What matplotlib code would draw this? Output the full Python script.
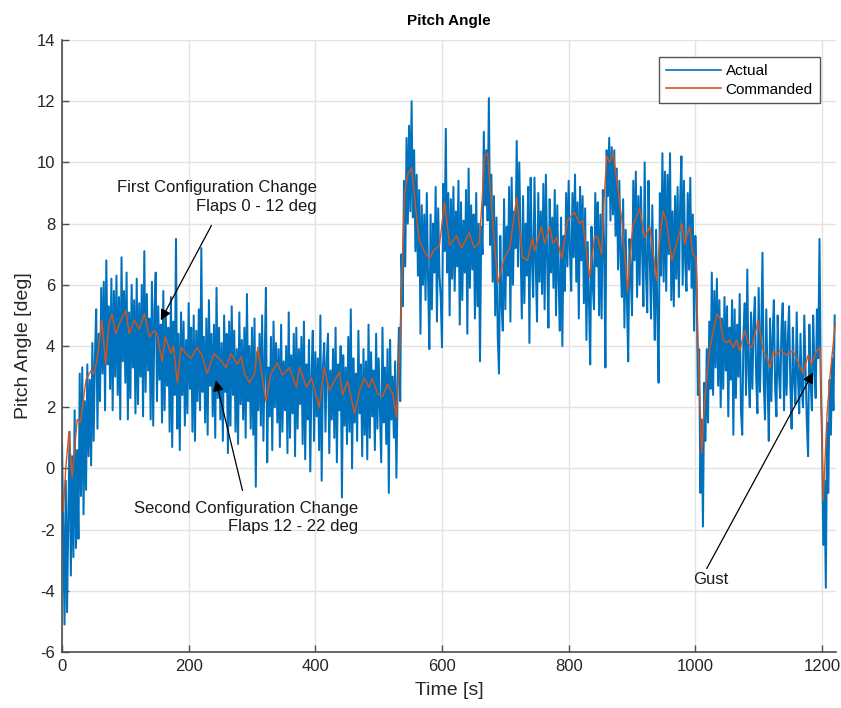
import numpy as np
import matplotlib
matplotlib.use("Agg")
import matplotlib.pyplot as plt

plt.rcParams['font.family'] = ['Liberation Sans', 'DejaVu Sans']
plt.rcParams['axes.unicode_minus'] = False

# Measured pitch angle [deg], one sample every 2 s starting at t = 0 s (30 samples per line)
sample_period = 2.0
actual_deg = [
    0.8, -1.9, -5.1, -0.4, -4.7, -1.6, 1.2, -3.5, 0.4, -2.9, 1.9, -2.6, 0.6, -2.3, 3.1, -0.9, 3.3, -1.5, 2.2, -0.7, 3.4, 0.4, 2.9, 0.1, 4.1, 0.9, 3.6, 5.2, 1.3, 4.4,
    2.2, 5.9, 3.1, 6.1, 1.9, 6.8, 3.4, 5.3, 2.6, 6.2, 1.9, 5.8, 3.0, 6.3, 2.4, 5.6, 1.6, 6.9, 3.5, 5.8, 2.8, 6.4, 1.6, 5.1, 2.3, 6.0, 3.3, 5.5, 1.8, 6.2,
    2.1, 5.4, 3.0, 6.0, 1.7, 7.1, 2.5, 5.7, 3.2, 4.9, 1.6, 6.1, 1.4, 5.2, 6.4, 2.2, 5.3, 2.9, 4.7, 1.5, 5.8, 1.9, 5.0, 2.7, 4.6, 1.2, 5.6, 0.7, 4.8, 2.4,
    7.5, 1.3, 4.4, 0.6, 5.1, 2.4, 4.8, 1.4, 4.2, 1.8, 5.4, 2.6, 4.6, 1.2, 5.0, 0.9, 4.5, 2.2, 5.2, 1.9, 7.2, 2.5, 4.3, 1.5, 4.9, 1.1, 5.5, 2.7, 4.4, 1.7,
    4.7, 1.0, 5.9, 2.3, 4.6, 1.6, 4.1, 0.9, 5.0, 2.5, 4.4, 0.5, 4.8, 1.4, 5.3, 2.4, 4.5, 1.2, 3.9, 0.8, 5.1, 2.1, 4.2, 1.6, 4.6, 1.0, 5.7, 2.2, 4.0, 1.3,
    4.6, 1.1, 4.9, -0.6, 3.8, 1.9, 4.4, 1.4, 5.0, 0.9, 3.6, 5.9, 0.2, 3.3, 1.7, 4.3, 0.6, 4.8, 2.0, 4.1, 1.5, 3.9, 0.7, 4.7, 1.2, 3.5, 1.9, 4.0, 0.5, 5.1,
    1.0, 3.7, 1.8, 4.4, 0.4, 4.6, 1.3, 3.9, 2.1, 4.3, 0.8, 4.8, 0.3, 3.4, 1.6, 4.2, -0.1, 3.1, 4.5, 0.9, 3.8, 1.7, 3.6, 0.6, 5.0, -0.4, 3.3, 4.1, 1.2, 3.5,
    4.4, 0.5, 3.2, 1.6, 3.9, 1.0, 4.6, 0.2, 3.4, 1.9, 4.0, -0.95, 3.7, 1.4, 3.3, 0.8, 4.3, 1.2, 5.2, 0.0, 3.6, 1.5, 3.1, 0.9, 4.5, 1.8, 3.4, 0.4, 3.9, 1.1,
    3.5, 0.3, 4.7, 1.0, 3.8, 1.7, 3.2, 0.6, 4.4, 1.3, 3.6, 1.9, 0.2, 4.6, 1.5, 3.3, 0.8, 3.9, -0.8, 4.2, 1.6, 3.0, 1.0, 3.5, -0.3, 2.8, 4.6, 2.2, 7.0, 5.3,
    9.4, 6.6, 10.8, 8.0, 11.2, 8.4, 12.0, 8.2, 10.4, 7.1, 9.6, 6.3, 9.1, 4.4, 8.6, 6.0, 8.3, 5.5, 9.0, 6.2, 3.9, 8.3, 5.2, 8.0, 6.4, 9.2, 4.8, 8.5, 6.3, 5.6,
    3.96, 9.3, 7.1, 11.1, 6.4, 9.0, 5.0, 8.8, 6.2, 9.2, 5.8, 8.4, 6.6, 9.4, 4.7, 8.7, 5.5, 8.1, 6.4, 9.1, 4.4, 9.8, 5.9, 8.6, 6.5, 8.3, 4.9, 9.0, 5.3, 8.0,
    3.5, 7.9, 7.0, 11.0, 8.6, 10.4, 8.1, 12.1, 7.3, 9.6, 6.1, 8.9, 5.0, 8.2, 4.3, 3.1, 7.6, 5.4, 4.5, 8.8, 5.2, 7.9, 6.3, 9.2, 4.8, 9.5, 6.0, 8.4, 7.2, 10.7,
    6.6, 10.0, 7.4, 4.9, 8.9, 5.4, 8.0, 6.3, 9.2, 4.1, 9.5, 6.8, 5.6, 9.5, 6.7, 4.8, 9.0, 6.1, 8.4, 5.7, 9.3, 5.2, 9.6, 6.9, 4.6, 8.8, 6.4, 8.2, 5.9, 9.1,
    5.0, 8.6, 6.2, 4.5, 8.2, 4.0, 7.6, 5.8, 9.0, 6.6, 9.4, 7.1, 5.8, 9.0, 6.9, 9.6, 6.1, 8.7, 4.9, 9.2, 6.8, 8.9, 5.4, 8.5, 4.2, 7.4, 5.5, 3.4, 7.9, 6.0,
    5.2, 9.0, 6.6, 8.7, 5.0, 8.3, 4.9, 9.1, 7.2, 3.3, 10.4, 8.9, 10.8, 8.1, 10.5, 8.3, 10.4, 7.6, 9.8, 6.5, 9.4, 6.8, 5.6, 8.8, 4.6, 7.8, 5.5, 3.5, 7.5, 6.4,
    5.0, 9.4, 6.8, 9.7, 5.6, 8.9, 6.0, 9.2, 7.1, 5.3, 10.0, 6.4, 5.1, 9.4, 6.9, 4.9, 8.6, 6.0, 4.2, 7.8, 5.0, 2.8, 9.0, 6.3, 10.3, 6.1, 9.7, 5.8, 9.6, 7.0,
    10.3, 5.5, 8.4, 5.3, 8.9, 6.2, 9.2, 5.6, 8.7, 10.2, 6.0, 9.4, 6.7, 5.8, 9.0, 6.5, 9.5, 5.9, 8.3, 4.5, 7.6, 6.1, 2.4, 3.9, -0.8, 1.6, -1.9, 2.8, 0.9, 3.9,
    1.5, 4.8, 2.6, 6.4, 2.4, 5.8, 3.3, 6.2, 2.7, 5.5, 2.0, 4.9, 2.6, 5.6, 3.2, 5.3, 1.7, 4.6, 2.9, 5.5, 1.1, 5.2, 2.3, 4.7, 3.0, 5.7, 1.9, 1.1, 4.4, 5.4,
    2.4, 6.5, 3.1, 2.0, 5.1, 2.6, 4.7, 5.6, 3.0, 1.8, 5.9, 2.5, 4.4, 7.05, 2.8, 1.6, 5.2, 2.9, 0.9, 4.9, 2.2, 4.3, 5.5, 2.6, 1.7, 5.0, 3.1, 2.3, 4.6, 5.4,
    1.9, 4.8, 2.4, 4.2, 5.3, 2.7, 1.3, 4.6, 2.9, 2.1, 5.1, 3.0, 1.8, 4.4, 2.6, 2.0, 5.0, 3.2, 1.5, 0.4, 4.7, 2.8, 1.9, 5.0, 3.3, 2.3, 5.2, 3.6, 7.5, 2.9,
    1.0, -2.5, -0.4, -3.9, 1.5, -0.8, 2.9, 1.1, 3.6, 1.9, 5.0,
]
if len(actual_deg) != 611:
    raise ValueError(f"actual_deg has {len(actual_deg)} samples, expected 611")

# Commanded pitch angle [deg] at its break points
cmd_time_s = [
    0, 2, 6, 11, 16, 24, 29, 38, 46, 50, 55, 63, 69, 74, 79, 85, 93, 101, 106, 114,
    122, 130, 138, 145, 150, 158, 163, 172, 176, 182, 188, 196, 204, 213, 221, 229, 240, 250, 259, 267,
    277, 283, 288, 296, 304, 309, 314, 322, 330, 340, 348, 359, 370, 375, 386, 394, 406, 414, 422, 430,
    438, 443, 451, 462, 470, 477, 485, 490, 498, 506, 514, 522, 528, 533, 538, 541, 546, 552, 558, 564,
    572, 580, 588, 596, 604, 612, 623, 631, 643, 651, 659, 664, 667, 672, 680, 688, 699, 707, 718, 727,
    735, 743, 746, 757, 762, 770, 775, 781, 789, 798, 809, 817, 822, 833, 841, 846, 852, 856, 860, 865,
    870, 876, 884, 893, 901, 912, 920, 928, 939, 944, 949, 954, 963, 971, 979, 983, 991, 996, 1001, 1005,
    1010, 1015, 1023, 1034, 1039, 1044, 1049, 1054, 1060, 1065, 1070, 1078, 1083, 1089, 1099, 1107, 1113, 1118, 1123, 1128,
    1134, 1145, 1154, 1159, 1170, 1178, 1183, 1192, 1197, 1202, 1208, 1213, 1221,
]
cmd_deg = [
    -0.6, -1.4, 0.0, 1.2, -0.3, 1.6, 1.5, 2.9, 3.2, 3.1, 3.5, 4.85, 3.4, 4.7, 5.05, 4.4, 4.85, 5.15, 4.4, 4.85,
    4.55, 5.05, 4.3, 4.5, 4.4, 3.5, 4.3, 3.75, 4.0, 2.8, 3.95, 3.75, 3.6, 3.95, 3.7, 3.1, 3.75, 3.55, 3.3, 3.75,
    3.4, 3.65, 3.1, 2.8, 3.1, 3.95, 3.3, 2.2, 3.1, 3.45, 3.05, 3.3, 2.65, 3.3, 2.65, 2.95, 2.0, 3.3, 2.55, 2.85,
    3.15, 2.4, 2.85, 1.8, 2.55, 2.95, 2.65, 2.95, 2.45, 2.35, 2.75, 2.45, 1.67, 3.75, 7.0, 9.0, 9.6, 9.83, 8.6, 7.45,
    7.1, 6.86, 7.15, 7.3, 8.7, 7.3, 7.6, 7.2, 7.7, 7.2, 7.4, 9.0, 10.2, 10.3, 8.1, 6.05, 6.9, 7.2, 8.86, 6.9,
    6.8, 7.55, 7.1, 7.9, 7.35, 7.9, 7.35, 7.55, 6.86, 8.1, 8.37, 8.0, 8.1, 6.25, 7.6, 7.55, 7.0, 8.8, 10.2, 10.0,
    10.3, 9.4, 8.1, 5.8, 7.9, 8.5, 7.55, 7.9, 6.15, 7.55, 8.4, 8.1, 6.8, 7.4, 8.0, 7.35, 7.9, 7.0, 6.9, 3.5,
    0.5, 2.3, 3.95, 5.05, 4.9, 4.2, 4.1, 4.2, 3.95, 4.2, 3.85, 4.5, 4.1, 3.95, 4.83, 3.85, 3.63, 3.3, 3.85, 3.7,
    3.85, 3.7, 3.85, 3.63, 3.1, 3.7, 3.4, 3.85, 3.95, -1.05, 1.8, 3.1, 4.74,
]

x_ticks = [0, 200, 400, 600, 800, 1000, 1200]
y_ticks = [-6, -4, -2, 0, 2, 4, 6, 8, 10, 12, 14]

BLUE = '#0072BD'
ORANGE = '#D95319'
AXIS_GRAY = '#4d4d4d'
TEXT = '#262626'

time_s = np.arange(len(actual_deg)) * sample_period

fig = plt.figure(figsize=(8.41, 7.08), dpi=100)
ax = fig.add_axes([0.0737, 0.079, 0.9203, 0.8645])

ax.plot(time_s, actual_deg, color=BLUE, lw=1.45, label='Actual')
ax.plot(cmd_time_s, cmd_deg, color=ORANGE, lw=1.0, label='Commanded')

ax.set_xlim(0, 1222)
ax.set_ylim(-6, 14)
ax.set_xticks(x_ticks)
ax.set_yticks(y_ticks)
ax.tick_params(direction='in', length=5, width=1, colors=AXIS_GRAY,
               labelsize=12, labelcolor=TEXT, top=False, right=False, pad=5)
for side in ('top', 'right'):
    ax.spines[side].set_visible(False)
for side in ('left', 'bottom'):
    ax.spines[side].set_color(AXIS_GRAY)
    ax.spines[side].set_linewidth(1.2)
ax.grid(True, color='#e3e3e3', lw=1.0)
ax.set_axisbelow(True)

ax.set_title('Pitch Angle', fontsize=11, fontweight='bold', color='black', pad=11)
ax.set_xlabel('Time [s]', fontsize=14, color=TEXT, labelpad=6)
ax.set_ylabel('Pitch Angle [deg]', fontsize=14, color=TEXT, labelpad=3)

leg = ax.legend(loc='upper right', bbox_to_anchor=(0.979, 0.972), borderaxespad=0,
                fontsize=11, handlelength=3.6, handletextpad=0.3, labelspacing=0.3,
                borderpad=0.45, fancybox=False, framealpha=1, edgecolor='#555555')
leg.get_frame().set_linewidth(1.0)
for handle in leg.get_lines():
    handle.set_linewidth(1.2)

arrow_kw = dict(arrowstyle='-|>', color='black', lw=0.9, mutation_scale=16,
                shrinkA=0, shrinkB=0)

ax.annotate('', xy=(156, 4.84), xytext=(236, 7.94), arrowprops=arrow_kw)
ax.text(402, 8.33, 'First Configuration Change\nFlaps 0 - 12 deg', ha='right',
        va='bottom', fontsize=12, linespacing=1.3, color='#1a1a1a')

ax.annotate('', xy=(243, 2.88), xytext=(285, -0.72), arrowprops=arrow_kw)
ax.text(467, -1.05, 'Second Configuration Change\nFlaps 12 - 22 deg', ha='right',
        va='top', fontsize=12, linespacing=1.3, color='#1a1a1a')

ax.annotate('', xy=(1186, 3.14), xytext=(1018, -3.27), arrowprops=arrow_kw)
ax.text(996, -3.62, 'Gust', ha='left', va='center', fontsize=12, color='#1a1a1a')

fig.savefig('out.png', dpi=100)
